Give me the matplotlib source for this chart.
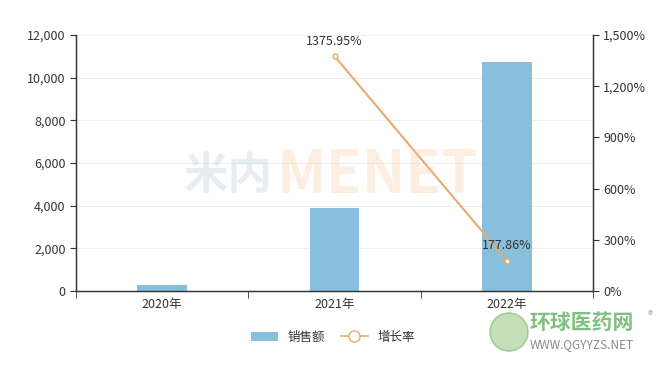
import matplotlib
matplotlib.use('Agg')
import matplotlib.pyplot as plt
from matplotlib.ticker import FuncFormatter, FixedLocator
from matplotlib.lines import Line2D
from matplotlib.patches import Patch, Ellipse

plt.rcParams['font.family'] = ['Noto Sans CJK SC', 'DejaVu Sans']

# data
years = ['2020年', '2021年', '2022年']
sales = [270, 3880, 10720]
growth_years = [1, 2]
growth = [1375.95, 177.86]

bar_color = '#87bfdc'
line_color = '#e8ab6c'
text_color = '#333333'

fig = plt.figure(figsize=(6.66, 3.66), dpi=100)
ax = fig.add_axes([76 / 666, 1 - 291 / 366, 517 / 666, 256 / 366])
ax2 = ax.twinx()

x = list(range(len(years)))
ax.bar(x, sales, width=0.29, color=bar_color, zorder=2)
ax.set_xlim(-0.5, 2.5)
ax.set_ylim(0, 12000)
ax.set_yticks(range(0, 12001, 2000))
ax.yaxis.set_major_formatter(FuncFormatter(lambda v, p: f'{int(v):,}'))
ax.set_xticks(x)
ax.set_xticklabels(years)
ax.xaxis.set_minor_locator(FixedLocator([-0.5, 0.5, 1.5, 2.5]))
ax.tick_params(axis='x', which='major', length=0, pad=5)
ax.tick_params(axis='x', which='minor', length=5, color=text_color)
ax.tick_params(axis='y', length=4, color=text_color)
ax.tick_params(labelsize=9, labelcolor=text_color)
ax.grid(axis='y', color='#eeeeee', linewidth=0.8, zorder=0)
ax.set_axisbelow(True)

ax2.plot(growth_years, growth, color=line_color, linewidth=1.5, marker='o',
         markersize=3.5, markerfacecolor='white', markeredgecolor=line_color, zorder=3)
for gx, gy in zip(growth_years, growth):
    ax2.text(gx, gy + 50, f'{gy:.2f}%', ha='center', va='bottom', fontsize=9, color=text_color)
ax2.set_ylim(0, 1500)
ax2.set_yticks(range(0, 1501, 300))
ax2.yaxis.set_major_formatter(FuncFormatter(lambda v, p: f'{int(v):,}%'))
ax2.tick_params(axis='y', length=4, color=text_color, labelsize=9, labelcolor=text_color)

for a in (ax, ax2):
    a.spines['top'].set_visible(False)
    for s in ('left', 'right', 'bottom'):
        a.spines[s].set_color(text_color)
        a.spines[s].set_linewidth(0.9)

# faint watermark
fig.text(378 / 666, 0.52, 'MENET', fontsize=42, fontweight='bold', color='#f6c99a',
         alpha=0.28, ha='center', va='center')
fig.text(228 / 666, 0.52, '米内', fontsize=32, fontweight='bold', color='#a9c2d3',
         alpha=0.28, ha='center', va='center')

handles = [Patch(facecolor=bar_color, edgecolor='none'),
           Line2D([0], [0], color=line_color, linewidth=1.2, marker='o', markersize=8,
                  markerfacecolor='white', markeredgecolor=line_color)]
fig.legend(handles, ['销售额', '增长率'], loc='center', bbox_to_anchor=(0.5, 1 - 337 / 366),
           ncol=2, frameon=False, fontsize=9, handlelength=2.2, columnspacing=1.2,
           labelcolor=text_color)

# site logo bottom right
fig.patches.append(Ellipse((509 / 666, 1 - 332 / 366), 38 / 666, 38 / 366,
                           transform=fig.transFigure, facecolor='#b5d9a6',
                           edgecolor='#8cbf7d', alpha=0.8))
fig.text(530 / 666, 1 - 322 / 366, '环球医药网', fontsize=15, fontweight='bold', color='#7fbf7f',
         ha='left', va='center')
fig.text(648 / 666, 1 - 316 / 366, '®', fontsize=8, color='#aaaaaa', ha='left', va='center')
fig.text(530 / 666, 1 - 345 / 366, 'WWW.QGYYZS.NET', fontsize=8.5, color='#8a8a8a',
         ha='left', va='center')

fig.savefig('out.png', dpi=100)
